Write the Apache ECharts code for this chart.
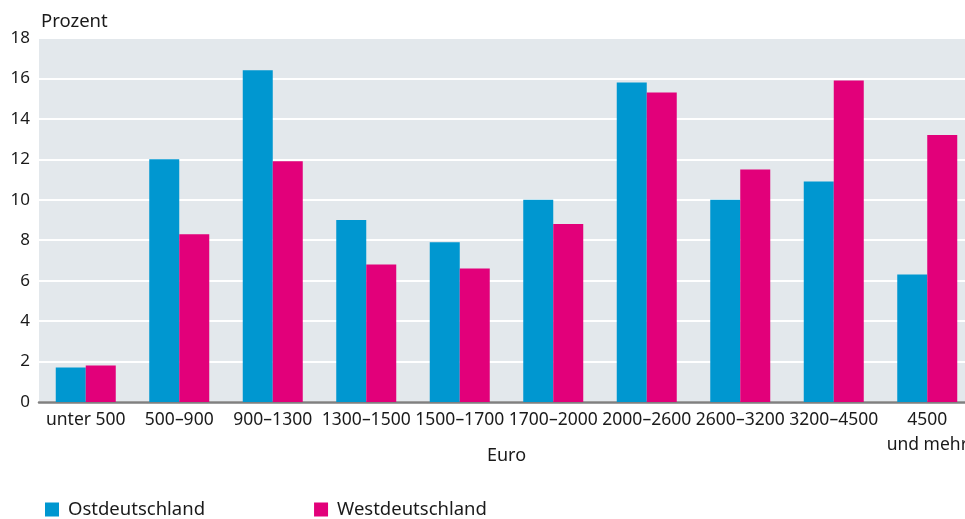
<!DOCTYPE html>
<html>
<head>
<meta charset="utf-8">
<script src="https://cdn.jsdelivr.net/npm/echarts@6/dist/echarts.min.js"></script>
<style>
  html, body { margin: 0; padding: 0; background: #fff; }
  #chart { width: 965px; height: 519px; }
</style>
</head>
<body>
<div id="chart"></div>
<script>
// Einkommensklassen (Euro)
const categories = ["unter 500", "500–900", "900–1300", "1300–1500", "1500–1700",
  "1700–2000", "2000–2600", "2600–3200", "3200–4500", "4500\nund mehr"];
// Anteile in Prozent
const ost = [1.7, 12.0, 16.4, 9.0, 7.9, 10.0, 15.8, 10.0, 10.9, 6.3];
const west = [1.8, 8.3, 11.9, 6.8, 6.6, 8.8, 15.3, 11.5, 15.9, 13.2];
const yTicks = { min: 0, max: 18, interval: 2 };

const font = "Noto Sans";
const chart = echarts.init(document.getElementById("chart"));

chart.setOption({
  animation: false,
  textStyle: { fontFamily: font },
  grid: {
    left: 39, right: -9, top: 38, bottom: 117,
    outerBoundsMode: "none",
    show: true, backgroundColor: "#e3e8ec", borderWidth: 0
  },
  legend: {
    left: 40, top: 495,
    itemWidth: 14, itemHeight: 14, itemGap: 109,
    icon: "rect",
    textStyle: { fontSize: 18.5, color: "#1a1a1a", fontFamily: font, padding: [0, 0, 0, 4] },
    data: ["Ostdeutschland", "Westdeutschland"]
  },
  xAxis: {
    type: "category",
    data: categories,
    name: "Euro",
    nameLocation: "middle",
    nameGap: 45,
    nameMoveOverlap: false,
    nameTextStyle: { fontSize: 18, color: "#1a1a1a" },
    axisLine: { lineStyle: { color: "#808080", width: 2.5 } },
    axisTick: { show: false },
    axisLabel: { interval: 0, fontSize: 17.5, color: "#1a1a1a", margin: 6, lineHeight: 25 }
  },
  yAxis: {
    type: "value",
    min: yTicks.min, max: yTicks.max, interval: yTicks.interval,
    name: "Prozent",
    nameLocation: "end",
    nameGap: 7,
    nameTextStyle: { fontSize: 18.5, color: "#1a1a1a", align: "left", padding: [0, 0, 0, 2] },
    axisLine: { show: false },
    axisTick: { show: false },
    axisLabel: { fontSize: 17, color: "#1a1a1a", margin: 9 },
    splitLine: { lineStyle: { color: "#ffffff", width: 2 } }
  },
  series: [
    {
      name: "Ostdeutschland",
      type: "bar",
      data: ost,
      barWidth: 30,
      barGap: "0%",
      itemStyle: { color: "#0097d0" }
    },
    {
      name: "Westdeutschland",
      type: "bar",
      data: west,
      barWidth: 30,
      barGap: "0%",
      itemStyle: { color: "#e2007a" }
    }
  ]
});
</script>
</body>
</html>
